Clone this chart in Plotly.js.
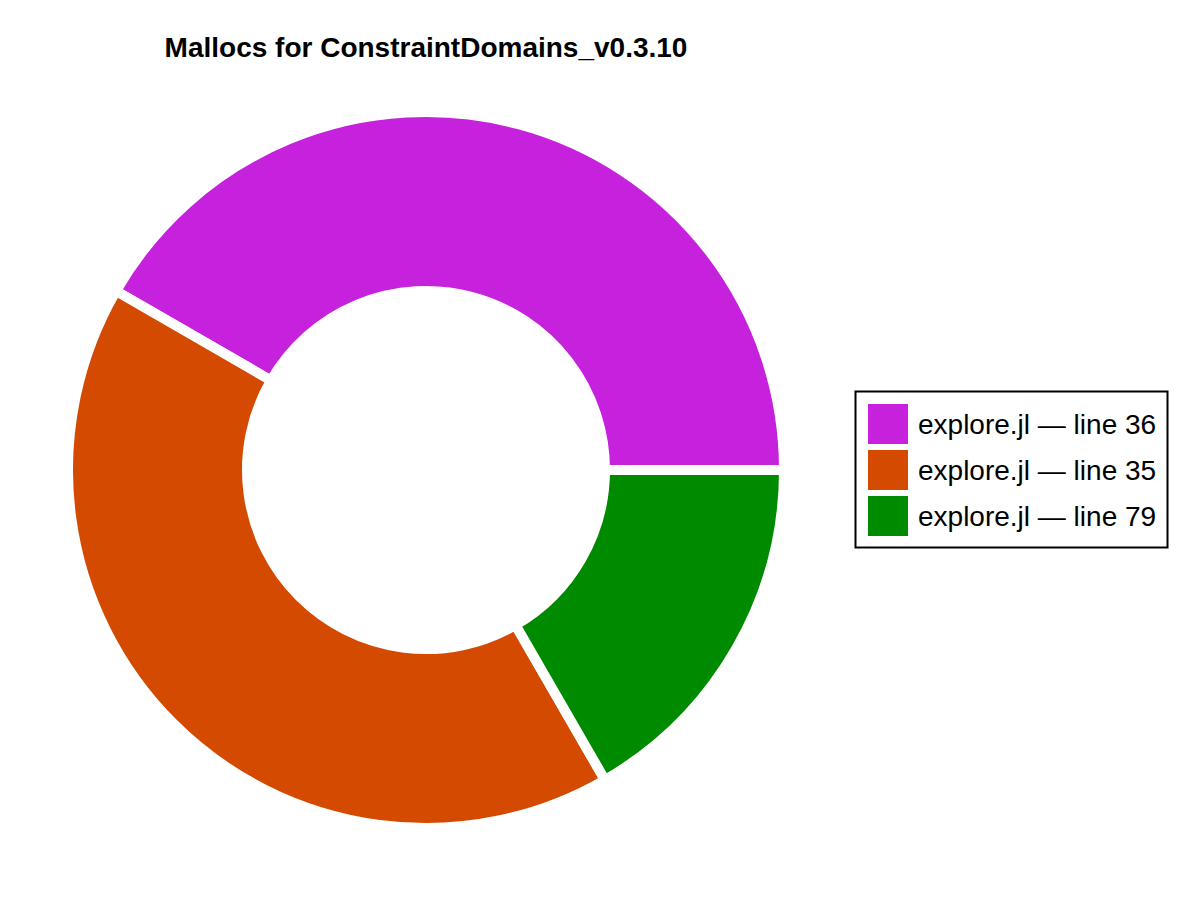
<!DOCTYPE html>
<html>
<head>
<meta charset="utf-8">
<script src="https://cdn.plot.ly/plotly-3.0.1.min.js"></script>
<style>html,body{margin:0;padding:0;background:#fff;}#chart{width:1200px;height:900px;}</style>
</head>
<body>
<div id="chart"></div>
<script>
// Data
var labels = ["explore.jl — line 36", "explore.jl — line 35", "explore.jl — line 79"];
var values = [5, 5, 2];
var colors = ["#C621DD", "#D34A00", "#008A00"];
var titleText = "Mallocs for ConstraintDomains_v0.3.10";

var W = 1200, H = 900;
var margin = {l: 68, r: 416, t: 112, b: 72};
var pw = W - margin.l - margin.r, ph = H - margin.t - margin.b;
function px(x) { return (x - margin.l) / pw; }
function py(y) { return 1 - (y - margin.t) / ph; }

var FONT = "Liberation Sans, Arial, Helvetica, sans-serif";

var trace = {
  type: "pie",
  labels: labels,
  values: values,
  hole: 0.5,
  sort: false,
  direction: "counterclockwise",
  rotation: -60,
  textinfo: "none",
  hoverinfo: "label+value+percent",
  marker: {colors: colors, line: {color: "#ffffff", width: 10}},
  showlegend: false
};

// Custom legend (large square swatches) built from labels/colors
var shapes = [{
  type: "rect", xref: "paper", yref: "paper",
  x0: px(855.5), x1: px(1167.5), y0: py(391.5), y1: py(547.5),
  line: {color: "#000", width: 2}, fillcolor: "rgba(0,0,0,0)"
}];
var annotations = [];
var step = 46, top0 = 404;
labels.forEach(function (lab, i) {
  var y0 = top0 + i * step;
  shapes.push({
    type: "rect", xref: "paper", yref: "paper",
    x0: px(868), x1: px(908), y0: py(y0), y1: py(y0 + 40),
    line: {width: 0}, fillcolor: colors[i]
  });
  annotations.push({
    xref: "paper", yref: "paper", x: px(916), y: py(y0 + 20),
    xanchor: "left", yanchor: "middle", showarrow: false,
    text: lab, font: {family: FONT, size: 28, color: "#000"}
  });
});

var layout = {
  width: W, height: H,
  margin: margin,
  paper_bgcolor: "#fff",
  plot_bgcolor: "#fff",
  showlegend: false,
  title: {
    text: "<b>" + titleText + "</b>",
    font: {family: FONT, size: 28, color: "#000"},
    xref: "paper", x: 0.5, xanchor: "center",
    yref: "container", y: 1 - 47 / H, yanchor: "middle"
  },
  shapes: shapes,
  annotations: annotations
};

Plotly.newPlot("chart", [trace], layout, {displayModeBar: false, staticPlot: true});
</script>
</body>
</html>
